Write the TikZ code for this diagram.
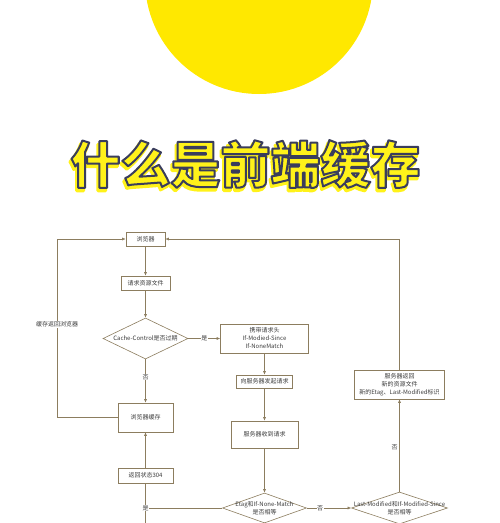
\documentclass[tikz,border=0pt]{standalone}
\usepackage{fontspec}
\newfontfamily\cjk{Noto Sans CJK SC}
\usetikzlibrary{arrows.meta,shapes.geometric}
\definecolor{sun}{HTML}{FFE800}
\definecolor{ttlfill}{HTML}{FFF21A}
\definecolor{ttlline}{HTML}{3A3D5C}
\definecolor{ln}{RGB}{140,125,95}
\definecolor{tx}{HTML}{3C3C3C}
\newcommand{\outlinetext}[1]{\special{pdf:literal direct 0.227 0.239 0.361 RG 2 w 1 j 2 Tr}#1\special{pdf:literal direct 0 Tr}}
\newcommand{\shadowtext}[1]{\special{pdf:literal direct 1 0.95 0.1 RG 3 w 1 j 2 Tr}#1\special{pdf:literal direct 0 Tr}}
\tikzset{
  box/.style={draw=ln, line width=0.6pt, fill=white, inner sep=0pt, align=center,
    font=\cjk\fontsize{6}{8}\selectfont, text=tx},
  dia/.style={draw=ln, line width=0.6pt, diamond, inner sep=0pt, fill=white},
  lbl/.style={font=\cjk\fontsize{6}{8}\selectfont, text=tx, align=center, inner sep=0.6pt},
  conn/.style={draw=ln, line width=0.6pt},
  arr/.style={conn, -{Latex[length=3.5pt,width=3pt]}},
  ttl/.style={font=\cjk\bfseries\fontsize{50}{50}\selectfont, inner sep=0pt},
}
\begin{document}
\begin{tikzpicture}[x=1pt,y=-1pt]
\useasboundingbox (0,0) rectangle (500,523);
\clip (0,0) rectangle (500,523);
\fill[white] (0,0) rectangle (500,523);
% sun
\fill[sun] (259,-20) circle (114);
% title
\node[ttl, text=ttlfill] (titleshadow) at (244,167) {\shadowtext{什么是前端缓存}};
\node[ttl, text=ttlfill] (title) at (245.5,164) {\outlinetext{什么是前端缓存}};

% nodes
\node[box, minimum width=39pt, minimum height=14pt] (b1) at (145.5,239) {浏览器};
\node[box, minimum width=49pt, minimum height=14pt] (b2) at (145.5,283) {请求资源文件};
\node[dia, minimum width=85pt, minimum height=41pt] (d1) at (145.5,338.5) {};
\node[lbl] (d1t) at (d1) {Cache-Control是否过期};
\node[box, minimum width=88pt, minimum height=29pt] (b3) at (264.5,338.5) {携带请求头\\If-Modied-Since\\If-NoneMatch};
\node[box, minimum width=56pt, minimum height=13pt] (b4) at (264.5,381.5) {向服务器发起请求};
\node[box, minimum width=67pt, minimum height=27pt] (b5) at (264.5,434.5) {服务器收到请求};
\node[box, minimum width=55pt, minimum height=29pt] (b6) at (145.5,417.5) {浏览器缓存};
\node[box, minimum width=55pt, minimum height=15pt] (b7) at (145.5,475.5) {返回状态304};
\node[dia, minimum width=84pt, minimum height=30pt] (d2) at (264.5,508) {};
\node[lbl] (d2t) at (d2) {Etag和If-None-Match\\是否相等};
\node[dia, minimum width=96pt, minimum height=32pt] (d3) at (399.5,508) {};
\node[lbl] (d3t) at (d3) {Last-Modified和If-Modified-Since\\是否相等};
\node[box, minimum width=90pt, minimum height=29pt] (b8) at (399.5,384.5) {服务器返回\\新的资源文件\\新的Etag、Last-Modified标识};

\coordinate (lc1) at (57,417.5);
\coordinate (lc2) at (57,239);
\coordinate (jn) at (145.5,508);
\coordinate (bot) at (145.5,524);

% connectors
\draw[arr] (b1) -- (b2);
\draw[arr] (b2) -- (d1);
\draw[arr] (d1) -- node[lbl, fill=white] (y1) {是} (b3);
\draw[arr] (d1) -- node[lbl, fill=white, pos=0.41] (n1) {否} (b6);
\draw[arr] (b3) -- (b4);
\draw[arr] (b4) -- (b5);
\draw[arr] (b5) -- (d2);
\draw[arr] (d2) -- node[lbl, fill=white, pos=0.3] (n2) {否} (d3);
\draw[arr] (d3) -- node[lbl, left=1pt, pos=0.48] (n3) {否} (b8);
\draw[arr] (b8.north) |- (b1.east);
\draw[arr] (b6.west) -- (lc1) -- node[lbl, fill=white, pos=0.52] (cb) {缓存返回浏览器} (lc2) -- (b1.west);
\draw[conn] (d2.west) -- (jn);
\draw[conn] (bot) -- (b7.south);
\node[lbl, fill=white] (y2) at (jn) {是};
\draw[arr] (b7) -- (b6);
\end{tikzpicture}
\end{document}
